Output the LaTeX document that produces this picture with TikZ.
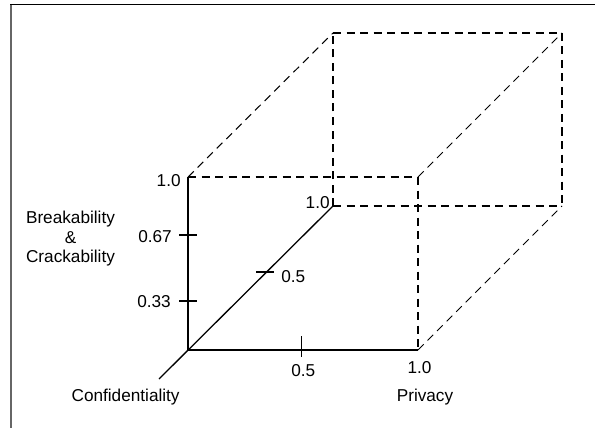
\documentclass[tikz,border=0pt]{standalone}
\usepackage{fontspec}
\setmainfont{Liberation Sans}
\begin{document}
\begin{tikzpicture}[x=1pt,y=-1pt,
  lbl/.style={font=\fontsize{17.2}{19}\selectfont, inner sep=0pt, anchor=base},
  axisline/.style={line width=1.3pt},
  hidden/.style={line width=1.05pt, dash pattern=on 8pt off 5.5pt},
  tickmark/.style={line width=1.3pt}]
\useasboundingbox (0,0) rectangle (595,428);
% frame
\draw[line width=2pt, black!60] (10.5,4) -- (10.5,428);
\draw[line width=1.5pt] (10,4.5) -- (595,4.5);
% corners
\coordinate (O) at (188,350);
\coordinate (P) at (418,350);
\coordinate (T) at (188,177);
\coordinate (TP) at (418,177);
\coordinate (B) at (333,206);
\coordinate (BP) at (562,206);
\coordinate (BT) at (333,33);
\coordinate (BTP) at (562,33);
\coordinate (C) at (159,379);
% solid axes
\draw[axisline] (T) -- (O) -- (P);
\draw[axisline] (C) -- (B);
% dashed edges
\draw[hidden] (T) -- (TP);
\draw[hidden] (TP) -- (P);
\draw[hidden] (BT) -- (BTP);
\draw[hidden] (BTP) -- (BP);
\draw[hidden] (B) -- (BP);
\draw[hidden] (B) -- (BT);
\draw[hidden] (T) -- (BT);
\draw[hidden] (TP) -- (BTP);
\draw[hidden] (P) -- (BP);
% ticks
\coordinate (t67a) at (179,235); \coordinate (t67b) at (197,235);
\coordinate (t33a) at (179,301); \coordinate (t33b) at (197,301);
\coordinate (tpa) at (301.7,336); \coordinate (tpb) at (301.7,357);
\coordinate (tca) at (256,272); \coordinate (tcb) at (273.5,272);
\draw[tickmark] (t67a) -- (t67b);
\draw[tickmark] (t33a) -- (t33b);
\draw[tickmark] (tpa) -- (tpb);
\draw[tickmark] (tca) -- (tcb);
% labels
\node[lbl] (l10v) at (168.7,186.8) {1.0};
\node[lbl] (l067) at (155,242.8) {0.67};
\node[lbl] (l033) at (154,307.8) {0.33};
\node[font=\fontsize{17.2}{19.5}\selectfont, inner sep=0pt, align=center] (lbc) at (70.5,238.7) {Breakability\\\&\\Crackability};
\node[lbl] (l05c) at (293.3,282.3) {0.5};
\node[lbl] (l10c) at (317.7,208.8) {1.0};
\node[lbl] (l05p) at (303.3,376.8) {0.5};
\node[lbl] (l10p) at (419.5,373.5) {1.0};
\node[lbl] (lconf) at (125.6,401.2) {Confidentiality};
\node[lbl] (lpriv) at (425,401.2) {Privacy};
\end{tikzpicture}
\end{document}
